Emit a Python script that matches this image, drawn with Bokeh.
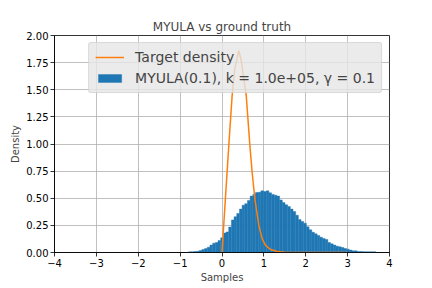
import numpy as np
from bokeh.plotting import figure
from bokeh.models import Range1d, FixedTicker, Legend, LegendItem
from bokeh.embed import file_html
from bokeh.resources import INLINE

# ---------------- data ----------------
chart_title = "MYULA vs ground truth"
x_label = "Samples"
y_label = "Density"

x_ticks = [-4, -3, -2, -1, 0, 1, 2, 3, 4]
x_tick_labels = ["\u22124", "\u22123", "\u22122", "\u22121", "0", "1", "2", "3", "4"]
y_ticks = [0.0, 0.25, 0.5, 0.75, 1.0, 1.25, 1.5, 1.75, 2.0]
y_tick_labels = ["0.00", "0.25", "0.50", "0.75", "1.00", "1.25", "1.50", "1.75", "2.00"]

hist_label = "MYULA(0.1), k = 1.0e+05, \u03b3 = 0.1"
target_label = "Target density"

# histogram of samples (density), bins from hist_min to hist_max
hist_min = -0.80
hist_max = 3.68
hist_density = [
    0.006, 0.007, 0.009, 0.011, 0.018, 0.028, 0.037, 0.049, 0.068, 0.086,
    0.092, 0.110, 0.135, 0.180, 0.190, 0.235, 0.300, 0.330, 0.360, 0.400,
    0.436, 0.450, 0.480, 0.520, 0.535, 0.553, 0.555, 0.568, 0.562, 0.568,
    0.550, 0.535, 0.528, 0.520, 0.485, 0.460, 0.440, 0.424, 0.400, 0.378,
    0.344, 0.304, 0.286, 0.270, 0.237, 0.209, 0.187, 0.172, 0.157, 0.141,
    0.129, 0.120, 0.092, 0.080, 0.068, 0.058, 0.052, 0.046, 0.037, 0.031,
    0.022, 0.015, 0.015, 0.009, 0.009, 0.008, 0.008, 0.007, 0.007, 0.006,
]

# target density curve
target_x = [0.0, 0.08, 0.163, 0.243, 0.30, 0.40, 0.46, 0.52, 0.578, 0.665,
            0.72, 0.783, 0.879, 0.96, 1.04, 1.16, 1.32, 1.5, 2.0, 3.0]
target_y = [0.0, 0.49, 0.99, 1.45, 1.68, 1.86, 1.77, 1.60, 1.45, 0.99,
            0.74, 0.50, 0.25, 0.126, 0.065, 0.028, 0.010, 0.003, 0.0, 0.0]

# ---------------- plot ----------------
FONT = "DejaVu Sans"

p = figure(width=432, height=288, output_backend="svg", toolbar_location=None,
           x_range=Range1d(-4, 4), y_range=Range1d(0, 2),
           title=chart_title,
           min_border_left=54, min_border_right=43,
           min_border_top=35, min_border_bottom=36)

p.title.align = "center"
p.title.text_font = FONT
p.title.text_font_size = "12px"
p.title.text_font_style = "normal"
p.title.standoff = 4

edges = np.linspace(hist_min, hist_max, len(hist_density) + 1)
hist = p.quad(left=edges[:-1], right=edges[1:], bottom=0, top=hist_density,
              fill_color="#1f77b4", line_color="#1f77b4", line_width=0.4)
line = p.line(target_x, target_y, line_color="#ff7f0e", line_width=1.5)

for ax, ticks, labels in ((p.xaxis, x_ticks, x_tick_labels), (p.yaxis, y_ticks, y_tick_labels)):
    ax.ticker = FixedTicker(ticks=ticks)
    ax.major_label_overrides = {t: l for t, l in zip(ticks, labels)}
    ax.major_label_text_font = FONT
    ax.major_label_text_font_size = "10px"
    ax.major_label_text_color = "black"
    ax.axis_label_text_font = FONT
    ax.axis_label_text_font_size = "10px"
    ax.axis_label_text_font_style = "normal"
    ax.axis_line_color = "black"
    ax.axis_line_width = 0.8
    ax.major_tick_line_color = "black"
    ax.major_tick_line_width = 0.8
    ax.major_tick_out = 4
    ax.major_tick_in = 0
    ax.minor_tick_line_color = None
    ax.major_label_standoff = 2
    ax.axis_label_standoff = 2

p.xaxis.axis_label = x_label
p.yaxis.axis_label = y_label

p.grid.grid_line_color = "#b0b0b0"
p.grid.grid_line_width = 0.8
p.outline_line_color = "black"
p.outline_line_width = 0.8
p.background_fill_color = "white"
p.border_fill_color = "white"

legend = Legend(items=[LegendItem(label=target_label, renderers=[line]),
                       LegendItem(label=hist_label, renderers=[hist])],
                location="top_right")
legend.label_text_font = FONT
legend.label_text_font_size = "14px"
legend.glyph_width = 29
legend.glyph_height = 10
legend.label_standoff = 11
legend.label_height = 16
legend.spacing = 5
legend.padding = 6
legend.margin = 7
legend.background_fill_color = "#e6e6e6"
legend.background_fill_alpha = 0.8
legend.border_line_color = "#c8c8c8"
legend.border_line_width = 1
legend.border_radius = 3
p.add_layout(legend)

open("out.html", "w").write(file_html(p, INLINE))
